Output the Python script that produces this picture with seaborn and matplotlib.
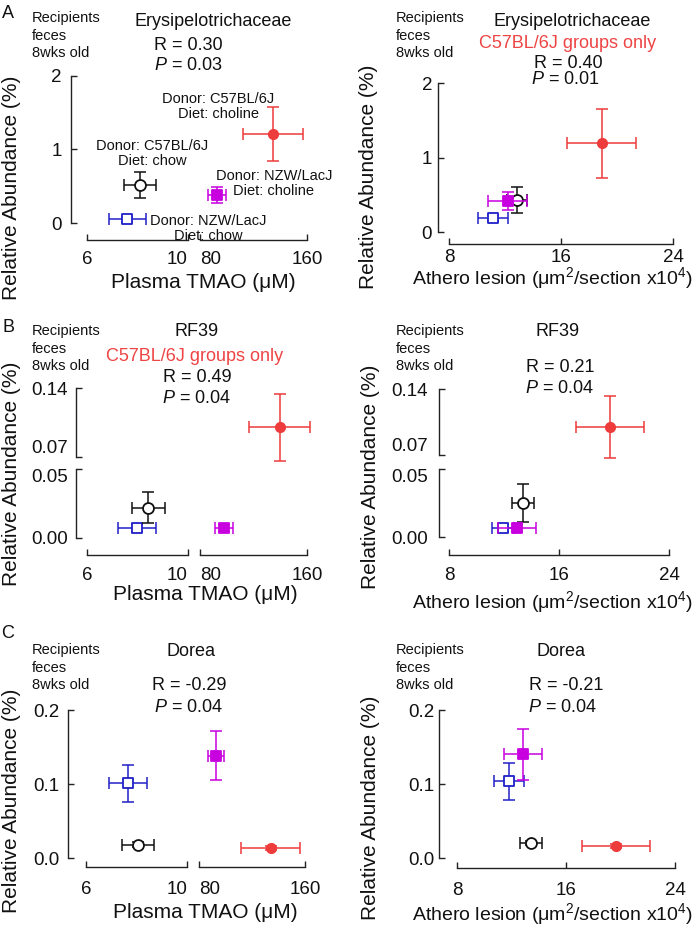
import matplotlib
matplotlib.use("Agg")
import matplotlib.pyplot as plt
import seaborn as sns

W, H = 700, 930

# group order: C57BL/6J chow, NZW/LacJ chow, NZW/LacJ choline, C57BL/6J choline
GROUPS = ["c57_chow", "nzw_chow", "nzw_choline", "c57_choline"]
STYLE = {
    "c57_chow":    ("#111111", "o", False, 62),
    "nzw_chow":    ("#2020C8", "s", False, 50),
    "nzw_choline": ("#C800E0", "s", True, 55),
    "c57_choline": ("#EE3B3B", "o", True, 45),
}
RED_TXT = "#EE4444"

# ── Erysipelotrichaceae ───────────────────────────────
ery_tmao = [8.1, 7.6, 92.7, 134.6]
ery_tmao_err = [0.63, 0.72, 6.7, 22.7]
ery_ab_tmao = [0.52, 0.05, 0.38, 1.21]
ery_ab_tmao_err = [0.18, 0.03, 0.11, 0.37]

ery_lesion = [12.86, 11.14, 12.2, 18.9]
ery_lesion_err = [0.7, 1.07, 1.4, 2.44]
ery_ab_lesion = [0.43, 0.19, 0.42, 1.19]
ery_ab_lesion_err = [0.17, 0.04, 0.12, 0.46]

# ── RF39 ──────────────────────────────────────────────
rf_tmao = [8.42, 7.98, 98.0, 139.8]
rf_tmao_err = [0.65, 0.75, 6.7, 22.8]
rf_ab_tmao = [0.022, 0.007, 0.007, 0.100]
rf_ab_tmao_err = [0.011, 0.003, 0.003, 0.034]

rf_lesion = [13.4, 11.9, 12.95, 19.7]
rf_lesion_err = [0.8, 0.8, 1.36, 2.5]
rf_ab_lesion = [0.025, 0.0066, 0.0066, 0.100]
rf_ab_lesion_err = [0.014, 0.003, 0.003, 0.033]

# ── Dorea ─────────────────────────────────────────────
dor_tmao = [8.06, 7.66, 92.7, 134.0]
dor_tmao_err = [0.64, 0.75, 6.0, 22.6]
dor_ab_tmao = [0.018, 0.101, 0.138, 0.0135]
dor_ab_tmao_err = [0.003, 0.025, 0.033, 0.003]

dor_lesion = [13.44, 11.8, 12.85, 19.7]
dor_lesion_err = [0.83, 1.1, 1.38, 2.5]
dor_ab_lesion = [0.02, 0.104, 0.14, 0.016]
dor_ab_lesion_err = [0.003, 0.025, 0.034, 0.003]

ANNOT_A = {
    "c57_chow": ("Donor: C57BL/6J\nDiet: chow", (12, 31)),
    "nzw_chow": ("Donor: NZW/LacJ\nDiet: chow", (81, -9)),
    "nzw_choline": ("Donor: NZW/LacJ\nDiet: choline", (57, 12)),
    "c57_choline": ("Donor: C57BL/6J\nDiet: choline", (-55, 28)),
}

sns.set_theme(style="ticks")
plt.rcParams["font.family"] = ["Liberation Sans", "DejaVu Sans"]
plt.rcParams["mathtext.fontset"] = "custom"
plt.rcParams["mathtext.rm"] = "Liberation Sans"
plt.rcParams["mathtext.it"] = "Liberation Sans:italic"
plt.rcParams["text.color"] = "#111111"

TICK_FS = 13.5
LABEL_FS = 15
LESION_FS = 14
TITLE_FS = 13
SMALL_FS = 10.5

fig = plt.figure(figsize=(W / 100, H / 100), dpi=100, facecolor="white")


def px_axes(x0, x1, y_top, y_bot):
    ax = fig.add_axes([x0 / W, 1 - y_bot / H, (x1 - x0) / W, (y_bot - y_top) / H])
    ax.patch.set_visible(False)
    return ax


def ftxt(x, y, s, **kw):
    kw.setdefault("ha", "center")
    kw.setdefault("va", "center")
    fig.text(x / W, 1 - y / H, s, **kw)


def style_ax(ax, xlim, ylim, xticks, yticks, left, bottom, loff, boff, xpad, ypad, yfmt):
    ax.set_xlim(*xlim)
    ax.set_ylim(*ylim)
    for side in ["top", "right"]:
        ax.spines[side].set_visible(False)
    for side in ["left", "bottom"]:
        ax.spines[side].set_color("#222222")
        ax.spines[side].set_linewidth(1.0)
    ax.tick_params(direction="in", length=4, width=1.0, color="#222222",
                   labelsize=TICK_FS, labelcolor="#111111")
    if left:
        ax.spines["left"].set_position(("outward", loff * 0.72))
        ax.spines["left"].set_bounds(*ylim)
        ax.set_yticks(yticks)
        ax.set_yticklabels([yfmt.format(v) for v in yticks])
        ax.tick_params(axis="y", pad=ypad)
    else:
        ax.spines["left"].set_visible(False)
        ax.tick_params(axis="y", left=False, labelleft=False)
    if bottom:
        ax.spines["bottom"].set_position(("outward", boff * 0.72))
        ax.spines["bottom"].set_bounds(*xlim)
        ax.set_xticks(xticks)
        ax.set_xticklabels([f"{v:g}" for v in xticks])
        ax.tick_params(axis="x", pad=xpad)
    else:
        ax.spines["bottom"].set_visible(False)
        ax.tick_params(axis="x", bottom=False, labelbottom=False)
    ax.set_xlabel("")
    ax.set_ylabel("")


def draw_point(ax, g, x, y, xe, ye, z):
    color, marker, filled, size = STYLE[g]
    eb = ax.errorbar(x, y, xerr=xe, yerr=ye, fmt="none", ecolor=color,
                     elinewidth=1.1, capsize=4, capthick=1.1, zorder=z)
    for art in list(eb.lines[1]) + list(eb.lines[2]):
        art.set_clip_on(False)
    sns.scatterplot(x=[x], y=[y], ax=ax, marker=marker, s=size, color=color,
                    facecolor=color if filled else "white", edgecolor=color,
                    linewidth=1.3, zorder=z + 0.5, clip_on=False, legend=False)


def pick(axes, x, y):
    for ax in axes:
        x0, x1 = ax.get_xlim()
        y0, y1 = ax.get_ylim()
        if x0 - 1 <= x <= x1 + 1 and y0 - 0.005 <= y <= y1 + 0.005:
            return ax
    return axes[-1]


def plot_groups(axes, xs, xes, ys, yes, order, annot=None):
    for i, g in enumerate(order):
        k = GROUPS.index(g)
        ax = pick(axes, xs[k], ys[k])
        draw_point(ax, g, xs[k], ys[k], xes[k], yes[k], 3 + i)
        if annot and g in annot:
            txt, off = annot[g]
            ax.annotate(txt, xy=(xs[k], ys[k]), xytext=off, textcoords="offset pixels",
                        ha="center", va="center", fontsize=SMALL_FS, linespacing=1.1,
                        annotation_clip=False, zorder=10)


def split_labels(ax_up, ax_low):
    # labels at a y break sit away from each other
    ax_up.get_yticklabels()[0].set_va("bottom")
    ax_low.get_yticklabels()[-1].set_va("top")


def header(x_rec, y_rec, letter=None, letter_y=None):
    if letter:
        ftxt(8, letter_y, letter, fontsize=TITLE_FS)
    ftxt(x_rec, y_rec, "Recipients\nfeces\n8wks old", ha="left", va="top",
         fontsize=SMALL_FS, linespacing=1.32)


TMAO_LABEL = "Plasma TMAO (μM)"
LESION_LABEL = "Athero lesion (μm$^2$/section x10$^4$)"
YLAB = "Relative Abundance (%)"
ORDER = ["nzw_chow", "c57_chow", "nzw_choline", "c57_choline"]

# ── Panel A left ──────────────────────────────────────
a_l = px_axes(87, 188, 76, 223)
a_r = px_axes(200, 307, 76, 223)
style_ax(a_l, (6, 10), (0, 2), [6, 10], [0, 1, 2], True, True, 16, 17, 8, 6.5, "{:g}")
style_ax(a_r, (80, 160), (0, 2), [80, 160], [], False, True, 0, 17, 8, 0, "{:g}")
plot_groups([a_l, a_r], ery_tmao, ery_tmao_err, ery_ab_tmao, ery_ab_tmao_err, ORDER, ANNOT_A)
header(32, 11, "A", 13)
ftxt(213, 21, "Erysipelotrichaceae", fontsize=TITLE_FS)
ftxt(188, 45, "R = 0.30", fontsize=TITLE_FS)
ftxt(188, 65, "$P$ = 0.03", fontsize=TITLE_FS)
ftxt(12, 188, YLAB, rotation=90, fontsize=LABEL_FS)
ftxt(203, 283, TMAO_LABEL, fontsize=LABEL_FS)

# ── Panel A right ─────────────────────────────────────
a2 = px_axes(449, 673, 83, 232)
style_ax(a2, (8, 24), (0, 2), [8, 16, 24], [0, 1, 2], True, True, 11, 12, 3.5, 4.3, "{:g}")
plot_groups([a2], ery_lesion, ery_lesion_err, ery_ab_lesion, ery_ab_lesion_err,
            ["nzw_chow", "c57_chow", "nzw_choline", "c57_choline"])
header(396, 11)
ftxt(572, 21, "Erysipelotrichaceae", fontsize=TITLE_FS)
ftxt(568, 43, "C57BL/6J groups only", fontsize=TITLE_FS, color=RED_TXT)
ftxt(568, 63, "R = 0.40", fontsize=TITLE_FS)
ftxt(565, 80, "$P$ = 0.01", fontsize=TITLE_FS)
ftxt(369, 177, YLAB, rotation=90, fontsize=LABEL_FS)
ftxt(553, 278, LESION_LABEL, fontsize=LESION_FS)

# ── Panel B left (broken x and y) ─────────────────────
b_ul = px_axes(87, 188, 388, 457)
b_ur = px_axes(200, 307, 388, 457)
b_ll = px_axes(87, 188, 469, 538)
b_lr = px_axes(200, 307, 469, 538)
style_ax(b_ul, (6, 10), (0.07, 0.14), [], [0.07, 0.14], True, False, 11, 0, 0, 6, "{:.2f}")
style_ax(b_ur, (80, 160), (0.07, 0.14), [], [], False, False, 0, 0, 0, 0, "{:.2f}")
style_ax(b_ll, (6, 10), (0, 0.05), [6, 10], [0, 0.05], True, True, 11, 17, 8.6, 6, "{:.2f}")
style_ax(b_lr, (80, 160), (0, 0.05), [80, 160], [], False, True, 0, 17, 8.6, 0, "{:.2f}")
split_labels(b_ul, b_ll)
plot_groups([b_ul, b_ur, b_ll, b_lr], rf_tmao, rf_tmao_err, rf_ab_tmao, rf_ab_tmao_err, ORDER)
header(32, 324, "B", 327)
ftxt(197, 332, "RF39", fontsize=TITLE_FS)
ftxt(195, 356, "C57BL/6J groups only", fontsize=TITLE_FS, color=RED_TXT)
ftxt(197, 377, "R = 0.49", fontsize=TITLE_FS)
ftxt(197, 398, "$P$ = 0.04", fontsize=TITLE_FS)
ftxt(12, 474, YLAB, rotation=90, fontsize=LABEL_FS)
ftxt(205, 595, TMAO_LABEL, fontsize=LABEL_FS)

# ── Panel B right (broken y) ──────────────────────────
b2_u = px_axes(449, 669, 389, 455)
b2_l = px_axes(449, 669, 469, 537)
style_ax(b2_u, (8, 24), (0.07, 0.14), [], [0.07, 0.14], True, False, 10, 0, 0, 8, "{:.2f}")
style_ax(b2_l, (8, 24), (0, 0.05), [8, 16, 24], [0, 0.05], True, True, 10, 18, 8.6, 8, "{:.2f}")
split_labels(b2_u, b2_l)
plot_groups([b2_u, b2_l], rf_lesion, rf_lesion_err, rf_ab_lesion, rf_ab_lesion_err,
            ["c57_chow", "nzw_chow", "nzw_choline", "c57_choline"])
header(396, 324)
ftxt(558, 332, "RF39", fontsize=TITLE_FS)
ftxt(560, 367, "R = 0.21", fontsize=TITLE_FS)
ftxt(560, 388, "$P$ = 0.04", fontsize=TITLE_FS)
ftxt(370, 477, YLAB, rotation=90, fontsize=LABEL_FS)
ftxt(553, 602, LESION_LABEL, fontsize=LESION_FS)

# ── Panel C left ──────────────────────────────────────
c_l = px_axes(86, 187, 710, 858)
c_r = px_axes(199, 305, 710, 858)
style_ax(c_l, (6, 10), (0, 0.2), [6, 10], [0, 0.1, 0.2], True, True, 18, 9, 10, 6, "{:.1f}")
style_ax(c_r, (80, 160), (0, 0.2), [80, 160], [], False, True, 0, 9, 10, 0, "{:.1f}")
plot_groups([c_l, c_r], dor_tmao, dor_tmao_err, dor_ab_tmao, dor_ab_tmao_err, ORDER)
header(32, 643, "C", 633)
ftxt(191, 652, "Dorea", fontsize=TITLE_FS)
ftxt(189, 685, "R = -0.29", fontsize=TITLE_FS)
ftxt(189, 707, "$P$ = 0.04", fontsize=TITLE_FS)
ftxt(12, 801, YLAB, rotation=90, fontsize=LABEL_FS)
ftxt(205, 912, TMAO_LABEL, fontsize=LABEL_FS)

# ── Panel C right ─────────────────────────────────────
c2 = px_axes(457, 675, 710, 858)
style_ax(c2, (8, 24), (0, 0.2), [8, 16, 24], [0, 0.1, 0.2], True, True, 18, 10, 10, 3, "{:.1f}")
plot_groups([c2], dor_lesion, dor_lesion_err, dor_ab_lesion, dor_ab_lesion_err,
            ["c57_chow", "nzw_chow", "nzw_choline", "c57_choline"])
header(396, 643)
ftxt(561, 652, "Dorea", fontsize=TITLE_FS)
ftxt(566, 685, "R = -0.21", fontsize=TITLE_FS)
ftxt(563, 707, "$P$ = 0.04", fontsize=TITLE_FS)
ftxt(370, 808, YLAB, rotation=90, fontsize=LABEL_FS)
ftxt(553, 914, LESION_LABEL, fontsize=LESION_FS)

# inner tick-label alignment at the x breaks
for ax_l, ax_r in [(a_l, a_r), (b_ll, b_lr), (c_l, c_r)]:
    ax_l.get_xticklabels()[-1].set_ha("right")
    ax_r.get_xticklabels()[0].set_ha("left")

fig.savefig("out.png", dpi=100, facecolor="white")
